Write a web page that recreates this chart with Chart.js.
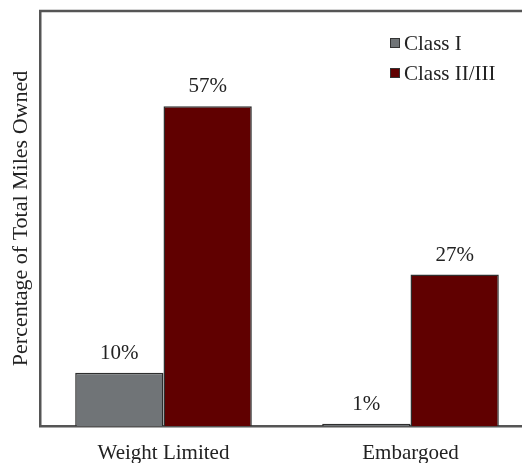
<!DOCTYPE html>
<html>
<head>
<meta charset="utf-8">
<script src="https://cdn.jsdelivr.net/npm/chart.js@4"></script>
<style>
  html, body { margin: 0; padding: 0; background: #fff; overflow: hidden; }
  #wrap { width: 534px; height: 463px; position: relative; }
</style>
</head>
<body>
<div id="wrap"><canvas id="grafico"></canvas></div>
<script>
const categorias = ['Weight Limited', 'Embargoed']
const classeI = [9.5, 0.4]
const classeII = [57, 27]
const rotulosI = ['10%', '1%']
const rotulosII = ['57%', '27%']
const yMax = 74

const fonte = '"Liberation Serif", "Times New Roman", serif'

// rotulos em cima das barras
const rotulosPlugin = {
    id: 'rotulos',
    afterDatasetsDraw(chart) {
        const ctx = chart.ctx
        ctx.save()
        ctx.font = '21px ' + fonte
        ctx.fillStyle = '#222'
        ctx.textAlign = 'center'
        ctx.textBaseline = 'bottom'
        const textos = [rotulosI, rotulosII]
        chart.data.datasets.forEach((ds, i) => {
            chart.getDatasetMeta(i).data.forEach((bar, j) => {
                ctx.fillText(textos[i][j], bar.x, bar.y - 9)
            })
        })
        ctx.restore()
    }
}

// borda de cima e legenda dentro da area
const moldura = {
    id: 'moldura',
    afterDraw(chart) {
        const ctx = chart.ctx
        const a = chart.chartArea
        ctx.save()
        ctx.strokeStyle = '#555'
        ctx.lineWidth = 2.5
        ctx.beginPath()
        ctx.moveTo(a.left - 1, a.top)
        ctx.lineTo(a.right + 2, a.top)
        ctx.stroke()

        ctx.font = '21px ' + fonte
        ctx.textAlign = 'left'
        ctx.textBaseline = 'middle'
        chart.data.datasets.forEach((ds, i) => {
            const y = 43 + i * 30
            ctx.fillStyle = ds.backgroundColor
            ctx.strokeStyle = '#333'
            ctx.lineWidth = 1
            ctx.fillRect(390, y - 5, 10, 10)
            ctx.strokeRect(390.5, y - 4.5, 9, 9)
            ctx.fillStyle = '#222'
            ctx.fillText(ds.label, 404, y + 1)
        })
        ctx.restore()
    }
}

window.onload = () => {
    var grf = document.getElementById('grafico').getContext('2d')

    var data = {
        labels: categorias,
        datasets: [{
            label: 'Class I',
            data: classeI,
            backgroundColor: '#707477',
            borderColor: '#2e2e2e',
            borderWidth: 1.5
        }, {
            label: 'Class II/III',
            data: classeII,
            backgroundColor: '#600000',
            borderColor: '#2e2e2e',
            borderWidth: 1.5
        }]
    }

    var options = {
        responsive: true,
        maintainAspectRatio: false,
        animation: false,
        layout: { padding: { top: 11, left: 8, right: 0, bottom: 0 } },
        plugins: { legend: { display: false }, tooltip: { enabled: false } },
        datasets: { bar: { categoryPercentage: 0.715, barPercentage: 1 } },
        scales: {
            x: {
                grid: { display: false, drawTicks: false },
                border: { display: true, color: '#555', width: 2.5 },
                ticks: { color: '#222', font: { family: fonte, size: 21 }, padding: 15 },
                afterFit: (s) => { s.height = 37 }
            },
            y: {
                min: 0,
                max: yMax,
                grid: { display: false, drawTicks: false },
                border: { display: true, color: '#555', width: 2.5 },
                ticks: { display: false },
                title: {
                    display: true,
                    text: 'Percentage of Total Miles Owned',
                    color: '#222',
                    font: { family: fonte, size: 22 },
                    padding: { top: 0, bottom: 6 }
                },
                afterFit: (s) => { s.width = 32 }
            }
        }
    }

    new Chart(grf, {
        type: 'bar',
        data: data,
        options: options,
        plugins: [rotulosPlugin, moldura]
    })
}
</script>
</body>
</html>
